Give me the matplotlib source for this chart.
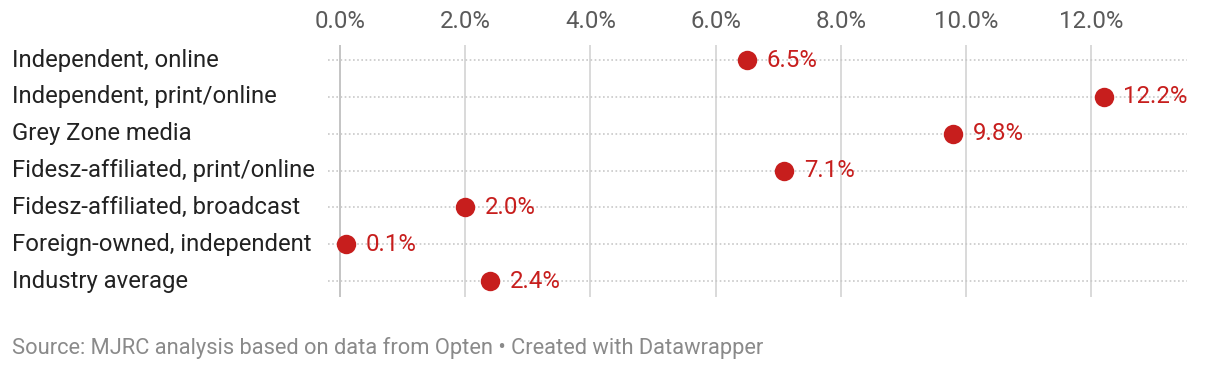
import matplotlib
matplotlib.use("Agg")
import matplotlib.pyplot as plt
import matplotlib.transforms as mtransforms

categories = [
    "Independent, online",
    "Independent, print/online",
    "Grey Zone media",
    "Fidesz-affiliated, print/online",
    "Fidesz-affiliated, broadcast",
    "Foreign-owned, independent",
    "Industry average",
]
values = [6.5, 12.2, 9.8, 7.1, 2.0, 0.1, 2.4]
xticks = [0, 2, 4, 6, 8, 10, 12]
xtick_labels = ["0.0%", "2.0%", "4.0%", "6.0%", "8.0%", "10.0%", "12.0%"]

plt.rcParams['font.family'] = ['Roboto', 'DejaVu Sans']

W, H = 1220, 372
fig = plt.figure(figsize=(W / 100, H / 100), dpi=100)
ax = fig.add_axes([328 / W, 1 - 297 / H, (1187 - 328) / W, (297 - 45) / H])

red = "#c71e1d"
n = len(categories)
ypos = list(range(n))

ax.set_xlim(-0.19, 13.53)
ax.set_ylim(n - 1 + 0.43, -0.41)

for t in xticks:
    ax.axvline(t, color="#c4c4c4" if t == 0 else "#d9d9d9", lw=1.4, zorder=1)
for y in ypos:
    ax.axhline(y, color="#c8c8c8", lw=1.2, ls=(0, (1, 1.5)), zorder=1)

ax.plot(values, ypos, "o", color=red, markersize=14, zorder=3, markeredgewidth=0)

for v, y in zip(values, ypos):
    ax.annotate(f"{v:.1f}%", (v, y), xytext=(14, 0), textcoords="offset points",
                ha="left", va="center", color=red, fontsize=17.3, zorder=4)

trans = mtransforms.blended_transform_factory(fig.transFigure, ax.transData)
for c, y in zip(categories, ypos):
    ax.text(12 / W, y, c, transform=trans, ha="left", va="center",
            fontsize=17.2, color="#222222")

ax.xaxis.tick_top()
ax.set_xticks(xticks)
ax.set_xticklabels(xtick_labels, fontsize=17.3, color="#5a5a5a")
ax.tick_params(axis="x", length=0, pad=9)
ax.set_yticks([])
for s in ax.spines.values():
    s.set_visible(False)

fig.text(12 / W, 1 - 348 / H, "Source: MJRC analysis based on data from Opten \u2022 Created with Datawrapper",
         fontsize=15.75, color="#8a8a8a", ha="left", va="center")

fig.savefig("out.png", dpi=100)
